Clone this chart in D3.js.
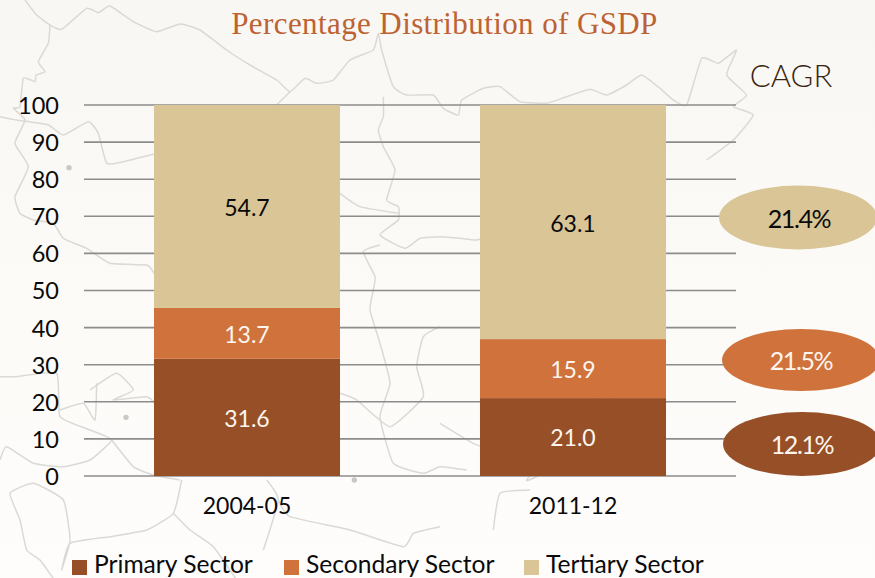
<!DOCTYPE html>
<html><head><meta charset="utf-8">
<script src="https://cdn.jsdelivr.net/npm/d3@7"></script>
<style>html,body{margin:0;padding:0;background:#fbf9f6;overflow:hidden}svg{display:block}</style>
</head><body><svg id="c" width="875" height="578"></svg>
<script>
const years = ["2004-05","2011-12"];
const sectors = ["Primary Sector","Secondary Sector","Tertiary Sector"];
const primary = [31.6,21.0];
const secondary = [13.7,15.9];
const tertiary = [54.7,63.1];
const cagr = ["12.1%","21.5%","21.4%"];
const colors = ["#964f27","#d0723c","#d9c596"];
const labelColors = ["#fdf6ee","#fdf6ee","#0a0a0a"];
const yTicks = d3.range(0,101,10);

// faint background map, traced in 3x crop coordinates
const mapLines = [
 [[75,0],[110,45],[150,75],[185,88],[260,25],[295,38],[330,18],[400,65],[470,95],[540,72],[600,90],[680,150],[750,195],[830,240],[870,275],[915,235],[950,250],[1000,240],[1050,180],[1120,150],[1135,100],[1145,150],[1180,260],[1220,285],[1300,285],[1330,325],[1375,345],[1385,300],[1450,265],[1500,260],[1560,305],[1640,310],[1700,290],[1770,268],[1820,285],[1880,255],[1925,225],[1980,265],[2020,300],[2060,315],[2105,175],[2155,190],[2210,150],[2180,225],[2240,285],[2200,320],[2260,345],[2200,420],[2120,480]],
 [[150,75],[145,130],[115,185],[135,215],[108,225],[105,245],[70,235],[60,320],[40,325],[75,360],[45,430],[85,500],[45,590],[60,640],[100,660],[160,670],[190,715],[260,745],[330,790],[440,795],[462,820]],
 [[0,350],[50,360],[145,375],[190,405],[265,365],[295,400],[320,490],[370,485],[462,462]],
 [[870,275],[830,315]],
 [[1150,290],[1150,350],[1135,390],[1150,440],[1185,510],[1160,600],[1195,620],[1195,660],[1140,705],[1215,745],[1260,715],[1320,710],[1380,715],[1430,720],[1500,700],[1560,695]],
 [[1020,580],[1080,620],[1195,640]],
 [[1140,735],[1090,755],[1125,830],[1120,870],[1110,930],[1140,1030],[1170,1150],[1140,1250],[1180,1390],[1270,1420],[1320,1400],[1400,1410]],
 [[0,1130],[50,1130],[170,1120],[180,1250],[270,1290],[335,1320],[270,1380],[190,1400],[100,1390],[20,1340],[0,1380]],
 [[270,1170],[350,1120],[400,1170],[340,1200],[440,1190],[470,1215]],
 [[180,1230],[250,1210],[285,1260],[290,1150]],
 [[335,1320],[400,1400],[460,1425],[540,1440]],
 [[545,1440],[520,1540],[440,1590],[330,1610],[210,1630],[185,1710],[210,1620],[190,1500],[100,1450],[30,1480],[60,1560],[80,1650],[120,1680],[170,1750]],
 [[520,1540],[570,1590],[640,1640],[710,1740]],
 [[800,1440],[835,1500],[790,1650]],
 [[835,1500],[870,1550],[1050,1590],[1210,1640],[1240,1600],[1320,1580]],
 [[1320,980],[1270,1010],[1250,1100],[1270,1190],[1170,1280],[1070,1200],[1020,1180]],
 [[1880,1290],[1840,1200],[1790,1170],[1760,1290],[1700,1300],[1580,1440],[1630,1420]],
 [[1480,1590],[1500,1480],[1590,1470]],
 [[1320,1270],[1420,1330],[1500,1360]]
];
const mapDots = [[207,503],[378,1252],[1063,1440]];

const W = 875, H = 578;
const svg = d3.select("#c");
const defs = svg.append("defs");
const bg = defs.append("linearGradient").attr("id","bg").attr("x1",0).attr("y1",0).attr("x2",0).attr("y2",1);
bg.append("stop").attr("offset",0).attr("stop-color","#f9f7f3");
bg.append("stop").attr("offset",0.6).attr("stop-color","#fcfbf8");
bg.append("stop").attr("offset",1).attr("stop-color","#fefdfc");
svg.append("rect").attr("width",W).attr("height",H).attr("fill","url(#bg)");

const map = svg.append("g").attr("transform","scale(0.33333)");
const smooth = d3.line().curve(d3.curveCardinal.tension(0.55));
map.selectAll("path").data(mapLines).join("path").attr("d",smooth)
  .attr("fill","none").attr("stroke","#dad9d5").attr("stroke-width",4.5).attr("stroke-linejoin","round");
map.selectAll("circle").data(mapDots).join("circle")
  .attr("cx",d=>d[0]).attr("cy",d=>d[1]).attr("r",8).attr("fill","#c9c8c4");

const x = d3.scaleBand().domain(years).range([84,736]).paddingInner(0.4294).paddingOuter(0.2147);
const y = d3.scaleLinear().domain([0,100]).range([476,105]);

svg.append("g").selectAll("line").data(yTicks).join("line")
  .attr("x1",84).attr("x2",736).attr("y1",d=>y(d)).attr("y2",d=>y(d))
  .attr("stroke","#8c8c8c").attr("stroke-width",1.6);

const yAxis = svg.append("g").attr("transform","translate(84,0)")
  .call(d3.axisLeft(y).tickValues(yTicks).tickSize(0).tickPadding(25));
yAxis.select(".domain").remove();
yAxis.selectAll("text").attr("font-family","Lato").attr("font-size",23.5).attr("fill","#0a0a0a").attr("dy","0.36em");

const xAxis = svg.append("g").attr("transform","translate(0,476)")
  .call(d3.axisBottom(x).tickSize(0).tickPadding(22));
xAxis.select(".domain").remove();
xAxis.selectAll("text").attr("font-family","Lato").attr("font-size",23).attr("fill","#0a0a0a");

const rows = years.map((yr,i)=>({year:yr,p:primary[i],s:secondary[i],t:tertiary[i]}));
const series = d3.stack().keys(["p","s","t"])(rows);
const layers = svg.append("g").selectAll("g").data(series).join("g");
layers.each(function(s,k){
  const g = d3.select(this);
  g.selectAll("rect").data(s).join("rect")
    .attr("x",d=>x(d.data.year)).attr("width",x.bandwidth())
    .attr("y",d=>y(d[1])).attr("height",d=>y(d[0])-y(d[1])).attr("fill",colors[k]);
  g.selectAll("text").data(s).join("text")
    .attr("x",d=>x(d.data.year)+x.bandwidth()/2)
    .attr("y",d=>(y(d[0])+y(d[1]))/2+ (k===2?1.5:1))
    .attr("dy","0.36em").attr("text-anchor","middle")
    .attr("font-family","Lato").attr("font-size",23).attr("fill",labelColors[k])
    .text(d=>(d[1]-d[0]).toFixed(1));
});

svg.append("text").attr("x",444.5).attr("y",34).attr("text-anchor","middle")
  .attr("font-family","Liberation Serif").attr("font-size",31).attr("letter-spacing",0.4).attr("fill","#bd6232")
  .text("Percentage Distribution of GSDP");
svg.append("text").attr("x",791).attr("y",87).attr("text-anchor","middle")
  .attr("font-family","Lato").attr("font-weight",300).attr("font-size",31).attr("fill","#3a2412").text("CAGR");

const bubbleCY = [444,360,217.5], bubbleCX = [802,801,798];
const bubbles = svg.append("g").selectAll("g").data(cagr).join("g");
bubbles.append("ellipse").attr("cx",(d,i)=>bubbleCX[i]).attr("cy",(d,i)=>bubbleCY[i])
  .attr("rx",79).attr("ry",(d,i)=>i===1?31:32).attr("fill",(d,i)=>colors[i]);
bubbles.append("text").attr("x",(d,i)=>bubbleCX[i]-(i===2?-1:0)).attr("y",(d,i)=>bubbleCY[i]+1)
  .attr("dy","0.36em").attr("text-anchor","middle").attr("font-family","Lato")
  .attr("font-size",25).attr("letter-spacing",-1.4).attr("fill",(d,i)=>labelColors[i]).text(d=>d);

const legX = [72,284,524];
const leg = svg.append("g").selectAll("g").data(sectors).join("g");
leg.append("rect").attr("x",(d,i)=>legX[i]).attr("y",560).attr("width",15).attr("height",15)
  .attr("fill",(d,i)=>colors[i]);
leg.append("text").attr("x",(d,i)=>legX[i]+22).attr("y",573)
  .attr("font-family","Lato").attr("font-size",24.6).attr("fill","#0a0a0a").text(d=>d);
</script></body></html>
